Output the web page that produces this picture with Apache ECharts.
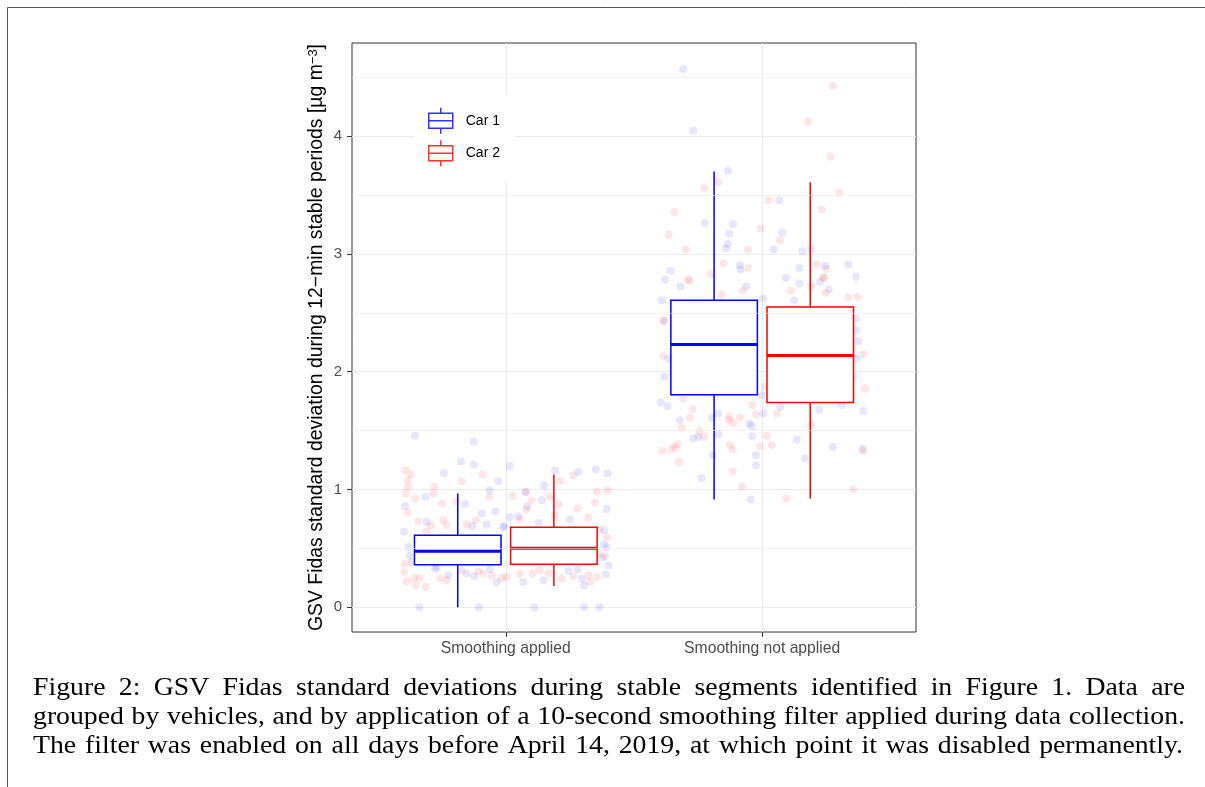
<!DOCTYPE html>
<html>
<head>
<meta charset="utf-8">
<script src="https://cdn.jsdelivr.net/npm/echarts@6/dist/echarts.min.js"></script>
<style>
html, body { margin: 0; padding: 0; background: #fff; }
#main { width: 1205px; height: 787px; }
</style>
</head>
<body>
<div id="main"></div>
<script>
var categories = ['Smoothing applied', 'Smoothing not applied'];
var yTicks = [0, 1, 2, 3, 4];
var yMinor = [0.5, 1.5, 2.5, 3.5, 4.5];

// box statistics per category: [min, Q1, median, Q3, max]
var car1Box = [[0.0, 0.36, 0.476, 0.611, 0.965], [0.915, 1.803, 2.231, 2.607, 3.70]];
var car2Box = [[0.181, 0.365, 0.50, 0.68, 1.127], [0.923, 1.738, 2.137, 2.548, 3.607]];

// jittered observations [x position, value]
var car1Pts = [
  [0.646,1.455],[0.875,1.404],[0.825,1.24],[0.876,1.212],[0.758,1.138],[0.971,1.07],[0.936,0.994],[0.687,0.937],
  [0.607,0.86],[0.841,0.877],[0.906,0.796],[0.959,0.815],[0.869,0.69],[0.925,0.702],[0.691,0.724],[0.603,0.64],
  [0.626,0.44],[0.633,0.385],[0.724,0.329],[0.847,0.286],[0.877,0.266],[0.776,0.272],[0.938,0.323],[0.964,0.215],
  [0.663,0],[0.895,0],[1.016,1.197],[1.192,1.161],[1.283,1.149],[1.351,1.172],[1.396,1.135],[1.149,1.033],
  [1.078,0.977],[1.084,0.858],[1.14,0.909],[1.394,0.835],[1.016,0.767],[1.25,0.745],[1.127,0.716],[0.99,0.682],
  [1.384,0.654],[1.383,0.535],[1.394,0.512],[1.378,0.422],[1.401,0.354],[1.39,0.28],[1.244,0.308],[1.279,0.32],
  [1.146,0.229],[1.068,0.215],[1.305,0.187],[1.111,0],[1.306,0],[1.365,0],[0.62,0.512],[0.73,0.342],
  [1.049,0.773],[0.993,0.688],[1.296,0.244],
  [1.692,4.569],[1.731,4.045],[1.867,3.705],[2.067,3.454],[1.776,3.261],[1.886,3.253],[1.871,3.17],[2.078,3.179],
  [1.866,3.083],[1.858,3.046],[2.045,3.038],[2.157,3.023],[2.19,3.038],[1.914,2.904],[1.916,2.868],[1.642,2.856],
  [2.145,2.879],[2.245,2.899],[2.336,2.91],[2.366,2.805],[2.093,2.797],[1.621,2.783],[1.682,2.723],[1.938,2.726],
  [1.609,2.607],[2.145,2.749],[2.226,2.766],[2.26,2.698],[2.125,2.604],[2.004,2.622],[1.617,2.431],[2.366,2.452],
  [2.366,2.352],[2.375,2.259],[2.369,2.112],[1.634,2.112],[1.618,1.956],[2.355,1.956],[1.998,1.8],[1.605,1.738],
  [1.631,1.707],[2.07,1.701],[2.31,1.716],[2.222,1.676],[2.394,1.667],[1.829,1.645],[2.004,1.645],[1.803,1.611],
  [1.679,1.588],[1.95,1.56],[1.959,1.537],[1.731,1.435],[1.751,1.446],[1.829,1.469],[1.961,1.452],[2.135,1.424],
  [2.275,1.361],[2.392,1.344],[1.807,1.293],[1.976,1.291],[2.167,1.263],[1.976,1.203],[1.764,1.098],[1.956,0.915]
];
var car2Pts = [
  [0.607,1.163],[0.63,1.127],[0.617,1.079],[0.62,1.022],[0.721,1.028],[0.828,1.07],[0.91,1.127],[0.609,0.966],
  [0.717,0.966],[0.646,0.923],[0.936,0.937],[0.75,0.88],[0.808,0.9],[0.617,0.804],[0.659,0.73],[0.708,0.696],
  [0.756,0.739],[0.769,0.696],[0.847,0.702],[0.883,0.739],[0.691,0.645],[0.607,0.371],[0.604,0.3],[0.613,0.221],
  [0.643,0.249],[0.663,0.249],[0.648,0.187],[0.687,0.172],[0.743,0.244],[0.769,0.229],[0.828,0.314],[0.893,0.306],
  [0.945,0.272],[0.984,0.249],[1.025,0.946],[1.055,0.747],[1.078,0.98],[1.101,0.909],[1.172,0.937],[1.211,1.07],
  [1.263,1.121],[1.355,0.98],[1.397,0.994],[1.348,0.889],[1.28,0.838],[1.205,0.875],[1.192,0.781],[1.322,0.762],
  [1.079,0.83],[1.394,0.597],[1.367,0.66],[1.361,0.456],[1.387,0.433],[1.055,0.286],[1.105,0.286],[1.133,0.314],
  [1.166,0.291],[1.263,0.263],[1.322,0.272],[1.355,0.257],[1.328,0.215],[1.218,0.244],[1.003,0.257],[0.912,0.286],
  [2.275,4.427],[2.179,4.122],[2.266,3.827],[1.774,3.558],[1.829,3.609],[2.301,3.516],[2.024,3.454],[1.657,3.355],
  [2.232,3.377],[1.994,3.213],[1.635,3.162],[2.07,3.114],[1.702,3.038],[1.945,3.038],[1.85,2.919],[1.946,2.879],
  [2.214,2.91],[2.25,2.873],[1.798,2.828],[1.713,2.783],[2.238,2.8],[1.714,2.771],[1.924,2.686],[1.842,2.656],
  [2.112,2.69],[2.193,2.726],[2.241,2.797],[2.249,2.669],[2.336,2.63],[2.373,2.635],[1.616,2.435],[1.614,2.132],
  [2.394,2.149],[2.401,1.857],[2.011,1.871],[1.692,1.769],[1.961,1.718],[1.729,1.684],[1.976,1.636],[2.058,1.648],
  [1.718,1.608],[1.872,1.622],[1.914,1.611],[1.869,1.588],[1.887,1.565],[2.19,1.546],[1.686,1.523],[1.755,1.497],
  [1.773,1.446],[2.018,1.455],[1.992,1.365],[2.037,1.378],[1.67,1.384],[1.66,1.361],[1.647,1.344],[1.612,1.327],
  [1.874,1.376],[1.885,1.339],[2.394,1.327],[1.676,1.234],[1.885,1.155],[1.922,1.022],[2.093,0.923],[2.355,1.0]
];

var caption = [
  'Figure 2: GSV Fidas standard deviations during stable segments identified in Figure 1. Data are',
  'grouped by vehicles, and by application of a 10-second smoothing filter applied during data collection.',
  'The filter was enabled on all days before April 14, 2019, at which point it was disabled permanently.'
];

var myChart = echarts.init(document.getElementById('main'));

var boxWidth = 0.3375;  // ggplot dodge: 0.75/2 * 0.9
var boxIcon = 'path://M12,0L12,5.5M0,5.5L24,5.5L24,20.5L0,20.5ZM0,13L24,13M12,20.5L12,26';

function boxRenderer(dodge) {
  return function (params, api) {
    var xc = api.value(0) + 1 + dodge;
    var pMin = api.coord([xc, api.value(1)]);
    var pQ1 = api.coord([xc, api.value(2)]);
    var pMed = api.coord([xc, api.value(3)]);
    var pQ3 = api.coord([xc, api.value(4)]);
    var pMax = api.coord([xc, api.value(5)]);
    var left = api.coord([xc - boxWidth / 2, 0])[0];
    var right = api.coord([xc + boxWidth / 2, 0])[0];
    var color = api.visual('color');
    return {
      type: 'group',
      children: [
        {type: 'line', shape: {x1: pMin[0], y1: pMin[1], x2: pQ1[0], y2: pQ1[1]}, style: {stroke: color, lineWidth: 1.5}},
        {type: 'line', shape: {x1: pQ3[0], y1: pQ3[1], x2: pMax[0], y2: pMax[1]}, style: {stroke: color, lineWidth: 1.5}},
        {type: 'rect', shape: {x: left, y: pQ3[1], width: right - left, height: pQ1[1] - pQ3[1]},
          style: {fill: '#fff', stroke: color, lineWidth: 1.5}},
        {type: 'line', shape: {x1: left, y1: pMed[1], x2: right, y2: pMed[1]}, style: {stroke: color, lineWidth: 3}}
      ]
    };
  };
}

function withIndex(rows) {
  return rows.map(function (r, i) { return [i].concat(r); });
}

// caption: Times-like serif, widened a little and justified like the LaTeX source
var capFont = '25px "Liberation Serif"';
var capScale = 1.11;
var capLeft = 33;
var capRight = [1185, 1185, 1183];
var measure = document.createElement('canvas').getContext('2d');
measure.font = capFont;

var captionText = [];
caption.forEach(function (line, i) {
  var words = line.split(' ');
  var widths = words.map(function (w) { return measure.measureText(w).width * capScale; });
  var total = widths.reduce(function (a, b) { return a + b; }, 0);
  var gap = (capRight[i] - capLeft - total) / (words.length - 1);
  var x = capLeft;
  words.forEach(function (w, k) {
    captionText.push({
      type: 'text', x: x, y: 676 + i * 29, scaleX: capScale, silent: true,
      style: {text: w, font: capFont, fill: '#000', verticalAlign: 'top'}
    });
    x += widths[k] + gap;
  });
});

option = {
  animation: false,
  textStyle: {fontFamily: 'Liberation Sans'},
  grid: {
    left: 352, top: 43, right: 289, bottom: 155,
    show: true, borderColor: '#333', borderWidth: 1, backgroundColor: 'transparent'
  },
  legend: {
    orient: 'vertical',
    left: 415, top: 95,
    padding: [12, 15, 14, 13],
    backgroundColor: '#fff',
    itemWidth: 24, itemHeight: 26, itemGap: 5,
    textStyle: {fontSize: 14, color: '#000', padding: [0, 0, 0, 8]},
    data: [
      {name: 'Car 1', icon: boxIcon, itemStyle: {color: '#fff', borderColor: '#0000ff', borderWidth: 1.5}},
      {name: 'Car 2', icon: boxIcon, itemStyle: {color: '#fff', borderColor: '#ff0000', borderWidth: 1.5}}
    ]
  },
  xAxis: {
    type: 'value', min: 0.4, max: 2.6,
    axisLine: {show: false, onZero: false},
    axisTick: {customValues: [1, 2], length: 5, lineStyle: {color: '#333'}},
    axisLabel: {
      customValues: [1, 2], margin: 9, fontSize: 15.7, color: '#4d4d4d',
      formatter: function (v) { return categories[Math.round(v) - 1]; }
    },
    splitLine: {show: true, lineStyle: {color: '#ebebeb', width: 1}}
  },
  yAxis: {
    type: 'value', min: -0.21, max: 4.79,
    name: '{a|GSV Fidas standard deviation during 12\u2212min stable periods [\u00b5g m}{s|\u22123}{a|]}',
    nameLocation: 'middle', nameRotate: 90, nameGap: 26,
    nameTextStyle: {
      rich: {
        a: {fontSize: 19.4, color: '#000', lineHeight: 19, verticalAlign: 'bottom'},
        s: {fontSize: 13, color: '#000', lineHeight: 13, verticalAlign: 'top', padding: [0, 0, 10, 0]}
      }
    },
    axisLine: {show: false, onZero: false},
    axisTick: {customValues: yTicks, length: 5, lineStyle: {color: '#333'}},
    axisLabel: {customValues: yTicks, margin: 10, fontSize: 15, color: '#4d4d4d'},
    splitLine: {show: true, lineStyle: {color: '#ebebeb', width: 1}}
  },
  graphic: [
    {type: 'line', silent: true, shape: {x1: 7.5, y1: 7.5, x2: 1205, y2: 7.5}, style: {stroke: '#555', lineWidth: 1}},
    {type: 'line', silent: true, shape: {x1: 7.5, y1: 7.5, x2: 7.5, y2: 787}, style: {stroke: '#555', lineWidth: 1}}
  ].concat(captionText),
  series: [
    {
      name: 'grid-minor', type: 'scatter', data: [], z: 1, silent: true,
      markLine: {
        silent: true, symbol: 'none', label: {show: false},
        lineStyle: {color: '#ebebeb', width: 0.6, type: 'solid'},
        data: yMinor.map(function (v) { return {yAxis: v}; })
      }
    },
    {
      name: 'Car 1', type: 'scatter', z: 2, data: car1Pts, symbolSize: 8,
      itemStyle: {color: 'rgba(0,0,255,0.12)'}
    },
    {
      name: 'Car 2', type: 'scatter', z: 2, data: car2Pts, symbolSize: 8,
      itemStyle: {color: 'rgba(255,0,0,0.12)'}
    },
    {
      name: 'Car 1', type: 'custom', z: 3, color: '#0000ff',
      renderItem: boxRenderer(-0.1875),
      encode: {x: 0, y: [1, 2, 3, 4, 5]},
      data: withIndex(car1Box)
    },
    {
      name: 'Car 2', type: 'custom', z: 3, color: '#ff0000',
      renderItem: boxRenderer(0.1875),
      encode: {x: 0, y: [1, 2, 3, 4, 5]},
      data: withIndex(car2Box)
    }
  ]
};

myChart.setOption(option);
</script>
</body>
</html>
